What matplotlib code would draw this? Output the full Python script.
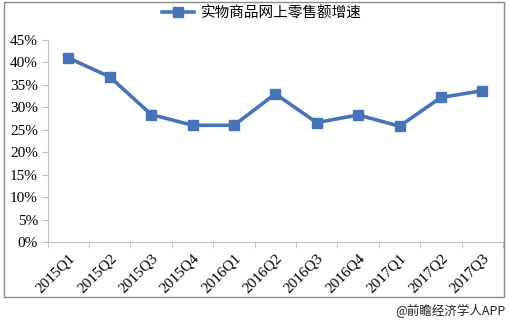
import matplotlib
matplotlib.use("Agg")
import matplotlib.pyplot as plt
from matplotlib.patches import Rectangle
from matplotlib.ticker import FuncFormatter

categories = ["2015Q1", "2015Q2", "2015Q3", "2015Q4", "2016Q1", "2016Q2",
              "2016Q3", "2016Q4", "2017Q1", "2017Q2", "2017Q3"]
growth = [41.0, 36.8, 28.4, 26.0, 26.0, 33.0, 26.6, 28.3, 25.8, 32.2, 33.7]
yticks = [0, 5, 10, 15, 20, 25, 30, 35, 40, 45]
series_name = "实物商品网上零售额增速"
credit = "@前瞻经济学人APP"

W, H = 509, 324
fig = plt.figure(figsize=(W / 100, H / 100), dpi=100)
fig.patch.set_facecolor("white")

# outer frame
fig.patches.append(Rectangle((4 / W, (H - 297) / H), 500 / W, 295 / H,
                             transform=fig.transFigure, fill=False,
                             edgecolor="#8c8c8c", linewidth=1.0))

ax = fig.add_axes([47.7 / W, (H - 242) / H, (503 - 47.7) / W, (242 - 40) / H])
x = list(range(len(categories)))
line, = ax.plot(x, growth, color="#4674B6", linewidth=2.6, marker="s",
                markersize=7, markerfacecolor="#4674B6", markeredgecolor="#4674B6")

ax.set_xlim(-0.5, len(categories) - 0.5)
ax.set_ylim(0, 45)
ax.set_yticks(yticks)
ax.yaxis.set_major_formatter(FuncFormatter(lambda v, p: f"{int(v)}%"))
ax.set_xticks(x)
ax.set_xticklabels(categories, rotation=45, ha="right", va="top",
                   rotation_mode="anchor", fontfamily="Liberation Serif", fontsize=11)
ax.set_xticks([i - 0.5 for i in range(len(categories) + 1)], minor=True)
ax.tick_params(axis="x", which="major", length=0, pad=7)
ax.tick_params(axis="x", which="minor", length=4, color="#bfbfbf", direction="out")
ax.tick_params(axis="y", length=4, color="#bfbfbf", direction="out", pad=3)
for lab in ax.get_yticklabels():
    lab.set_fontfamily("Liberation Serif")
    lab.set_fontsize(11)

for s in ["top", "right"]:
    ax.spines[s].set_visible(False)
ax.spines["left"].set_color("#bfbfbf")
ax.spines["bottom"].set_color("#bfbfbf")

leg = fig.legend([line], [series_name], loc="center", bbox_to_anchor=(262 / W, (H - 13) / H),
                 frameon=False, handlelength=2.2, handletextpad=0.5,
                 prop={"family": ["Noto Sans CJK SC", "DejaVu Sans"], "size": 10.5})

fig.text(505 / W, (H - 311) / H, credit, ha="right", va="center", fontsize=9,
         family=["Noto Sans CJK SC", "DejaVu Sans"], color="#222222")

fig.savefig("out.png", dpi=100, facecolor="white")
